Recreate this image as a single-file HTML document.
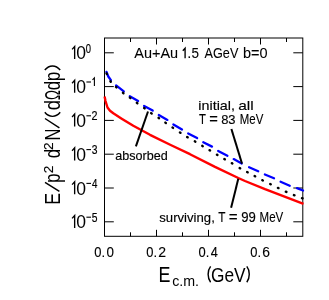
<!DOCTYPE html>
<html><head><meta charset="utf-8">
<style>
html,body{margin:0;padding:0;background:#fff;}
body{width:329px;height:300px;overflow:hidden;font-family:"Liberation Sans",sans-serif;}
svg{display:block;position:absolute;left:0;top:0;will-change:transform;}
text{font-family:"Liberation Sans",sans-serif;fill:#000;}
</style></head><body>
<svg width="329" height="300" viewBox="0 0 329 300">
<rect width="329" height="300" fill="#fff"/>
<g stroke="#000" stroke-width="1.0" fill="none">
<rect x="104.5" y="38.0" width="198.3" height="198.3"/>
<path d="M104.5,52.8h9.3 M302.8,52.8h-9.5 M104.5,86.6h9.3 M302.8,86.6h-9.5 M104.5,120.4h9.3 M302.8,120.4h-9.5 M104.5,154.2h9.3 M302.8,154.2h-9.5 M104.5,188.0h9.3 M302.8,188.0h-9.5 M104.5,221.8h9.3 M302.8,221.8h-9.5"/>
<path d="M156.5,236.3v-6.5 M156.5,38.0v6.5 M208.5,236.3v-6.5 M208.5,38.0v6.5 M260.5,236.3v-6.5 M260.5,38.0v6.5 M130.5,236.3v-4 M130.5,38.0v4 M182.5,236.3v-4 M182.5,38.0v4 M234.5,236.3v-4 M234.5,38.0v4 M286.5,236.3v-4 M286.5,38.0v4"/>
</g>
<g fill="none" stroke="#0000ff" stroke-width="2.3" stroke-linecap="round" stroke-linejoin="round"><path d="M106.5,71.9 L108.3,76.5 L110.9,80.2"/><path d="M116.1,85.4 L123.8,91.4"/><path d="M129.8,96.2 L138.1,100.9"/><path d="M144.1,105.9 L152.7,110.6"/><path d="M158.8,115.0 L167.4,119.9"/><path d="M173.4,124.4 L182.0,129.5"/><path d="M188.2,133.4 L197.1,138.1"/><path d="M203.3,142.3 L212.0,146.6"/><path d="M218.2,150.9 L227.4,155.7"/><path d="M233.7,159.1 L241.7,163.5"/><path d="M249.1,167.2 L258.2,171.3"/><path d="M264.9,174.5 L274.0,178.2"/><path d="M280.6,181.8 L289.7,185.7"/><path d="M297.0,188.1 L303.0,190.5"/></g>
<g fill="none" stroke="#000" stroke-width="2.35" stroke-linecap="round"><path d="M106.54,73.39 L106.86,74.01"/><path d="M110.40,81.21 L110.80,81.79"/><path d="M115.94,86.96 L116.46,87.44"/><path d="M122.92,92.79 L123.48,93.21"/><path d="M129.82,97.60 L130.38,98.00"/><path d="M136.82,102.79 L137.38,103.21"/><path d="M144.12,108.00 L144.68,108.40"/><path d="M151.11,113.10 L151.69,113.50"/><path d="M158.51,117.81 L159.09,118.19"/><path d="M165.31,122.60 L165.89,123.00"/><path d="M172.51,127.50 L173.09,127.90"/><path d="M179.91,132.41 L180.49,132.79"/><path d="M187.10,137.02 L187.70,137.38"/><path d="M194.80,141.32 L195.40,141.68"/><path d="M202.20,145.82 L202.80,146.18"/><path d="M209.50,150.12 L210.10,150.48"/><path d="M216.90,154.62 L217.50,154.98"/><path d="M224.30,159.03 L224.90,159.37"/><path d="M231.80,163.12 L232.40,163.48"/><path d="M239.60,168.02 L240.20,168.38"/><path d="M247.09,172.04 L247.71,172.36"/><path d="M254.59,176.04 L255.21,176.36"/><path d="M262.29,180.14 L262.91,180.46"/><path d="M270.19,184.05 L270.81,184.35"/><path d="M277.89,187.85 L278.51,188.15"/><path d="M285.78,191.66 L286.42,191.94"/><path d="M293.88,195.07 L294.52,195.33"/><path d="M301.97,198.17 L302.63,198.43"/></g>
<path fill="none" stroke="#ff0000" stroke-width="2.4" stroke-linejoin="round" d="M104.6,96.5 L105.5,101.0 L107.5,107.5 L110.0,110.8 L113.3,113.3 L121.7,118.7 L133.3,125.8 L150.0,134.8 L170.7,145.0 L190.0,154.2 L215.0,166.9 L238.3,178.0 L245.0,181.0 L265.0,189.2 L303.5,203.9"/>
<g stroke="#000" stroke-width="2" fill="none">
<line x1="135.9" y1="146.4" x2="148" y2="111.5"/>
<line x1="231.4" y1="129" x2="242" y2="163.6"/>
<line x1="231.1" y1="207.8" x2="238.3" y2="178.7"/>
</g>
<path d="M72.1,49.4 l2.55,-2.9 v12.5" fill="none" stroke="#000" stroke-width="1.35"/><text transform="translate(76.31,59.30) scale(0.9817,1)" font-size="17.90">0</text>
<text transform="translate(85.73,52.50) scale(0.7471,1)" font-size="12.60" stroke="#000" stroke-width="0.18" vector-effect="non-scaling-stroke">0</text>
<path d="M72.1,83.2 l2.55,-2.9 v12.5" fill="none" stroke="#000" stroke-width="1.35"/><text transform="translate(76.31,93.10) scale(0.9817,1)" font-size="17.90">0</text>
<path d="M86.4,82.0h4.6" stroke="#000" stroke-width="1.1"/><path d="M92.5,79.8 l1.9,-2 v8.3" fill="none" stroke="#000" stroke-width="1.1"/><path d="M72.1,117.0 l2.55,-2.9 v12.5" fill="none" stroke="#000" stroke-width="1.35"/><text transform="translate(76.31,126.90) scale(0.9817,1)" font-size="17.90">0</text>
<path d="M86.4,115.8h4.6" stroke="#000" stroke-width="1.1"/><text transform="translate(91.56,120.20) scale(0.8816,1)" font-size="12.20" stroke="#000" stroke-width="0.19" vector-effect="non-scaling-stroke">2</text>
<path d="M72.1,150.8 l2.55,-2.9 v12.5" fill="none" stroke="#000" stroke-width="1.35"/><text transform="translate(76.31,160.70) scale(0.9817,1)" font-size="17.90">0</text>
<path d="M86.4,149.6h4.6" stroke="#000" stroke-width="1.1"/><text transform="translate(91.71,154.00) scale(0.8471,1)" font-size="12.20" stroke="#000" stroke-width="0.19" vector-effect="non-scaling-stroke">3</text>
<path d="M72.1,184.6 l2.55,-2.9 v12.5" fill="none" stroke="#000" stroke-width="1.35"/><text transform="translate(76.31,194.50) scale(0.9817,1)" font-size="17.90">0</text>
<path d="M86.4,183.4h4.6" stroke="#000" stroke-width="1.1"/><text transform="translate(91.88,187.80) scale(0.7971,1)" font-size="12.20" stroke="#000" stroke-width="0.19" vector-effect="non-scaling-stroke">4</text>
<path d="M72.1,218.4 l2.55,-2.9 v12.5" fill="none" stroke="#000" stroke-width="1.35"/><text transform="translate(76.31,228.30) scale(0.9817,1)" font-size="17.90">0</text>
<path d="M86.4,217.2h4.6" stroke="#000" stroke-width="1.1"/><text transform="translate(91.69,221.60) scale(0.8471,1)" font-size="12.20" stroke="#000" stroke-width="0.19" vector-effect="non-scaling-stroke">5</text>
<text transform="translate(94.19,257.10) scale(0.8705,1)" font-size="14.90" stroke="#000" stroke-width="0.12" vector-effect="non-scaling-stroke">0</text>
<text transform="translate(101.26,257.10) scale(0.9868,1)" font-size="14.90">.</text>
<text transform="translate(106.38,257.10) scale(0.8985,1)" font-size="14.90" stroke="#000" stroke-width="0.12" vector-effect="non-scaling-stroke">0</text>
<text transform="translate(146.29,257.10) scale(0.8705,1)" font-size="14.90" stroke="#000" stroke-width="0.12" vector-effect="non-scaling-stroke">0</text>
<text transform="translate(153.36,257.10) scale(0.9868,1)" font-size="14.90">.</text>
<text transform="translate(158.29,257.10) scale(0.9428,1)" font-size="14.90" stroke="#000" stroke-width="0.12" vector-effect="non-scaling-stroke">2</text>
<text transform="translate(198.39,257.10) scale(0.8705,1)" font-size="14.90" stroke="#000" stroke-width="0.12" vector-effect="non-scaling-stroke">0</text>
<text transform="translate(205.46,257.10) scale(0.9868,1)" font-size="14.90">.</text>
<text transform="translate(210.81,257.10) scale(0.8524,1)" font-size="14.90" stroke="#000" stroke-width="0.12" vector-effect="non-scaling-stroke">4</text>
<text transform="translate(250.29,257.10) scale(0.8705,1)" font-size="14.90" stroke="#000" stroke-width="0.12" vector-effect="non-scaling-stroke">0</text>
<text transform="translate(257.36,257.10) scale(0.9868,1)" font-size="14.90">.</text>
<text transform="translate(262.30,257.10) scale(0.9309,1)" font-size="14.90" stroke="#000" stroke-width="0.12" vector-effect="non-scaling-stroke">6</text>
<text transform="translate(134.27,58.30) scale(0.9529,1)" font-size="15.20" stroke="#000" stroke-width="0.07" vector-effect="non-scaling-stroke">Au+Au</text>
<text transform="translate(187.26,58.30) scale(0.9673,1)" font-size="15.20" stroke="#000" stroke-width="0.07" vector-effect="non-scaling-stroke">.</text>
<text transform="translate(191.46,58.30) scale(0.8881,1)" font-size="15.20" stroke="#000" stroke-width="0.07" vector-effect="non-scaling-stroke">5</text>
<text transform="translate(204.58,58.30) scale(0.8330,1)" font-size="15.20" stroke="#000" stroke-width="0.07" vector-effect="non-scaling-stroke">AGeV</text>
<text transform="translate(242.97,58.30) scale(0.9541,1)" font-size="15.20" stroke="#000" stroke-width="0.07" vector-effect="non-scaling-stroke">b=0</text>
<text transform="translate(198.34,110.40) scale(1.0859,1)" font-size="13.20" stroke="#000" stroke-width="0.15" vector-effect="non-scaling-stroke">initial,</text>
<text transform="translate(238.24,110.40) scale(1.1732,1)" font-size="13.20" stroke="#000" stroke-width="0.15" vector-effect="non-scaling-stroke">all</text>
<text transform="translate(198.95,123.90) scale(0.7971,1)" font-size="14.20" stroke="#000" stroke-width="0.11" vector-effect="non-scaling-stroke">T</text>
<text transform="translate(209.18,123.90) scale(1.0436,1)" font-size="14.20" stroke="#000" stroke-width="0.11" vector-effect="non-scaling-stroke">=</text>
<text transform="translate(221.14,123.90) scale(0.9542,1)" font-size="13.60" stroke="#000" stroke-width="0.14" vector-effect="non-scaling-stroke">83</text>
<text transform="translate(239.86,123.90) scale(0.8044,1)" font-size="14.20" stroke="#000" stroke-width="0.11" vector-effect="non-scaling-stroke">MeV</text>
<text transform="translate(115.27,159.60) scale(0.9675,1)" font-size="13.00" stroke="#000" stroke-width="0.16" vector-effect="non-scaling-stroke">absorbed</text>
<text transform="translate(159.23,222.20) scale(0.9907,1)" font-size="13.30" stroke="#000" stroke-width="0.15" vector-effect="non-scaling-stroke">surviving,</text>
<text transform="translate(218.33,222.20) scale(0.8286,1)" font-size="14.30" stroke="#000" stroke-width="0.11" vector-effect="non-scaling-stroke">T</text>
<text transform="translate(228.86,222.20) scale(1.0651,1)" font-size="14.30" stroke="#000" stroke-width="0.11" vector-effect="non-scaling-stroke">=</text>
<text transform="translate(241.18,222.20) scale(0.9538,1)" font-size="13.80" stroke="#000" stroke-width="0.13" vector-effect="non-scaling-stroke">99</text>
<text transform="translate(259.55,222.20) scale(0.8059,1)" font-size="14.30" stroke="#000" stroke-width="0.11" vector-effect="non-scaling-stroke">MeV</text>
<path d="M182.8,50.7 l2.3,-2.5 v10.1" fill="none" stroke="#000" stroke-width="1.35"/>
<text transform="translate(158.53,281.90) scale(0.8363,1)" font-size="21.40">E</text>
<text transform="translate(172.19,286.10) scale(0.9497,1)" font-size="15.00">c.m.</text>
<text transform="translate(211.03,281.60) scale(0.8325,1)" font-size="20.80">GeV</text>
<path d="M210.6,266.4 C207.3,270.6 207.3,278.1 210.6,282.3 M246.8,266.4 C250.1,270.6 250.1,278.1 246.8,282.3" fill="none" stroke="#000" stroke-width="1.45"/>
<g transform="translate(59.7,203.3) rotate(-90)">
<text transform="translate(-1.45,0.00) scale(0.8355,1)" font-size="21.20">E</text>
<text transform="translate(20.53,0.00) scale(0.7867,1)" font-size="21.20">p</text>
<text transform="translate(30.12,-7.20) scale(1.0233,1)" font-size="13.30" stroke="#000" stroke-width="0.15" vector-effect="non-scaling-stroke">2</text>
<text transform="translate(45.10,0.00) scale(0.7867,1)" font-size="21.20">d</text>
<text transform="translate(53.42,-7.20) scale(1.0233,1)" font-size="13.30" stroke="#000" stroke-width="0.15" vector-effect="non-scaling-stroke">2</text>
<text transform="translate(62.75,0.00) scale(0.7769,1)" font-size="21.20">N</text>
<text transform="translate(93.02,0.00) scale(0.8706,1)" font-size="21.20">d</text>
<text transform="translate(103.24,0.00) scale(0.6269,1)" font-size="21.20">Ω</text>
<text transform="translate(113.10,0.00) scale(0.7890,1)" font-size="21.20">dp</text>
<path d="M11.9,-0.3 L20.9,-14.7 M75.5,-0.3 L84.8,-14.7 M91.0,-14.9 C85.6,-10.5 85.6,-3.9 91.0,0.5 M133.3,-14.9 C138.7,-10.5 138.7,-3.9 133.3,0.5" stroke="#000" stroke-width="1.45" fill="none"/>
</g>
</svg>
</body></html>
